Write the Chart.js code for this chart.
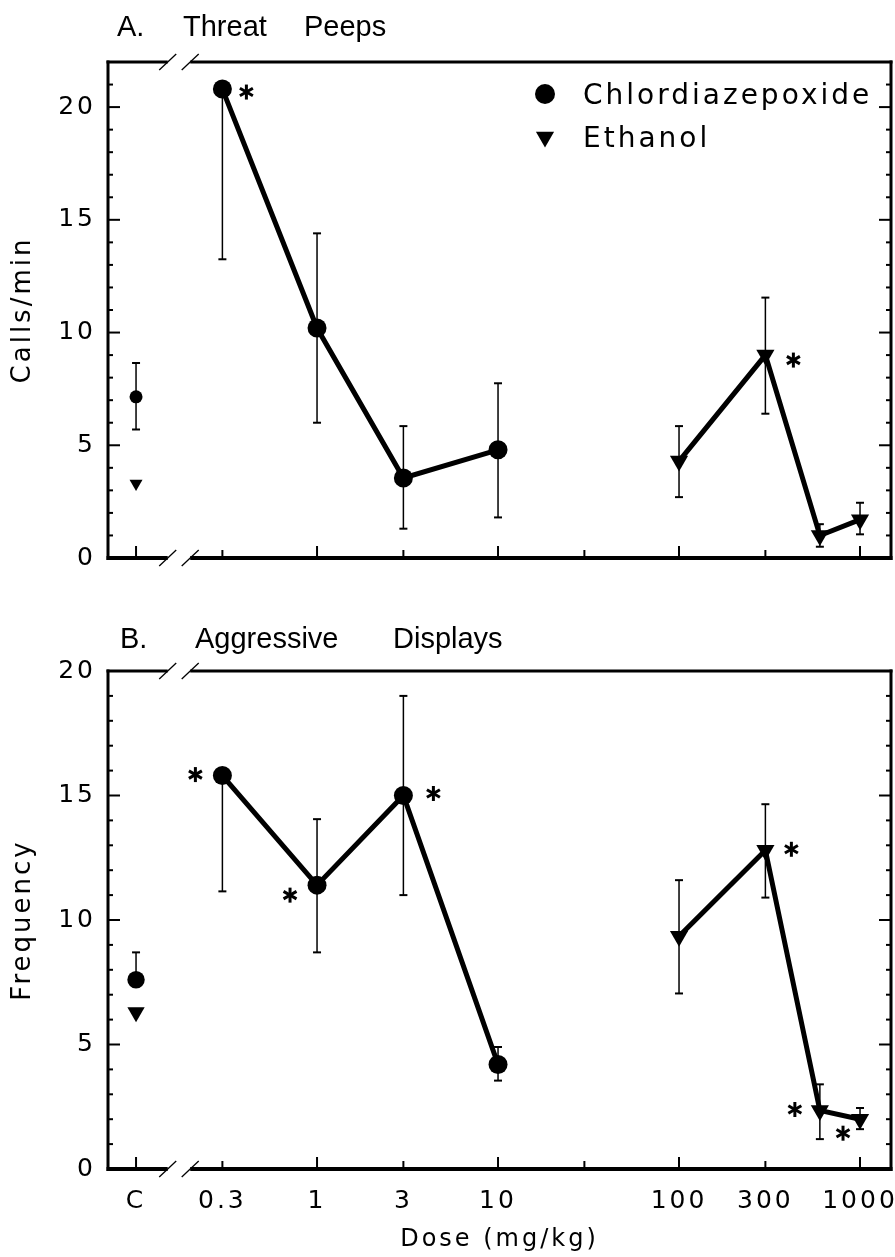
<!DOCTYPE html>
<html>
<head>
<meta charset="utf-8">
<script src="https://cdn.jsdelivr.net/npm/chart.js@4.4.1/dist/chart.umd.min.js"></script>
<style>
  html, body { margin: 0; padding: 0; background: #fff; }
  canvas { display: block; }
</style>
</head>
<body>
<canvas id="chartA" width="895" height="600"></canvas>
<canvas id="chartB" width="895" height="657"></canvas>
<script>
// Doses in mg/kg. The control group "C" is placed one decade below 1 on the log axis
const controlDose = 0.1;
const chlDoses = [0.3, 1, 3, 10];
const ethDoses = [100, 300, 600, 1000];

const xTickValues = [0.1, 0.3, 1, 3, 10, 30, 100, 300, 1000];
const xTickLabels = ['C', '0.3', '1', '3', '10', '', '100', '300', '1000'];
const xMajorTicks = [0.1, 1, 10, 100, 1000];

// A. Threat peeps (calls/min): means and error bar ends (null = not drawn)
const peepsChl   = [20.8, 10.2, 3.55, 4.8];
const peepsChlHi = [null, 14.4, 5.85, 7.75];
const peepsChlLo = [13.25, 6.0, 1.3, 1.8];
const peepsEth   = [4.3, 9.0, 1.0, 1.7];
const peepsEthHi = [5.85, 11.55, 1.5, 2.45];
const peepsEthLo = [2.7, 6.4, 0.5, 1.05];
const peepsCtrl   = [7.15, 3.3];   // chlordiazepoxide, ethanol
const peepsCtrlHi = [8.65, null];
const peepsCtrlLo = [5.7, null];
const peepsYLabels = [0, 5, 10, 15, 20];

// B. Aggressive displays (frequency)
const dispChl   = [15.8, 11.4, 15.0, 4.2];
const dispChlHi = [null, 14.05, 19.0, 4.9];
const dispChlLo = [11.15, 8.7, 11.0, 3.55];
const dispEth   = [9.35, 12.8, 2.35, 2.0];
const dispEthHi = [11.6, 14.65, 3.4, 2.45];
const dispEthLo = [7.05, 10.9, 1.2, 1.6];
const dispCtrl   = [7.6, 6.3];
const dispCtrlHi = [8.7, null];
const dispCtrlLo = [null, null];
const dispYLabels = [0, 5, 10, 15, 20];

const seriesNames = ['Chlordiazepoxide', 'Ethanol'];
const peepsTitle = ['A.', 'Threat', 'Peeps'];
const dispTitle = ['B.', 'Aggressive', 'Displays'];

Chart.defaults.color = '#000';
Chart.defaults.font.family = 'DejaVu Sans';

function seg(ctx, x1, y1, x2, y2) {
    ctx.beginPath();
    ctx.moveTo(x1, y1);
    ctx.lineTo(x2, y2);
    ctx.stroke();
}

function drawStar(ctx, cx, cy) {
    const s = 7.5;
    ctx.lineWidth = 3;
    [90, 30, 150].forEach(a => {
        const r = a * Math.PI / 180;
        seg(ctx, cx - Math.cos(r) * s, cy - Math.sin(r) * s, cx + Math.cos(r) * s, cy + Math.sin(r) * s);
    });
}

// error bars, drawn under the markers
const errorBarPlugin = {
    id: 'errorBars',
    beforeDatasetsDraw(chart, args, opts) {
        const ctx = chart.ctx;
        const ys = chart.scales.y;
        ctx.save();
        ctx.strokeStyle = '#000';
        opts.sets.forEach(set => {
            const meta = chart.getDatasetMeta(set.ds);
            meta.data.forEach((pt, i) => {
                const hi = set.hi[i], lo = set.lo[i];
                const top = hi == null ? pt.y : ys.getPixelForValue(hi);
                const bot = lo == null ? pt.y : ys.getPixelForValue(lo);
                ctx.lineWidth = 1.5;
                seg(ctx, pt.x, top, pt.x, bot);
                ctx.lineWidth = 2;
                if (hi != null) seg(ctx, pt.x - 4, top, pt.x + 4, top);
                if (lo != null) seg(ctx, pt.x - 4, bot, pt.x + 4, bot);
            });
        });
        ctx.restore();
    }
};

// frame with axis breaks, inward ticks, titles, stars, legend
const framePlugin = {
    id: 'frame',
    beforeDraw(chart) {
        chart.ctx.letterSpacing = '3px';
    },
    afterDraw(chart, args, opts) {
        const ctx = chart.ctx;
        const {left, right, top, bottom} = chart.chartArea;
        const xs = chart.scales.x, ys = chart.scales.y;
        ctx.save();
        ctx.letterSpacing = '0px';
        ctx.strokeStyle = '#000';
        ctx.fillStyle = '#000';

        const brk = (xs.getPixelForValue(0.1) + xs.getPixelForValue(0.3)) / 2;
        const gL = brk - 11.5, gR = brk + 11;
        ctx.lineWidth = 3;
        seg(ctx, left, top - 1.5, left, bottom + 2);
        seg(ctx, right, top - 1.5, right, bottom + 2);
        seg(ctx, left - 1.5, top, gL, top);
        seg(ctx, gR, top, right + 1.5, top);
        ctx.lineWidth = 4;
        seg(ctx, left - 1.5, bottom, gL, bottom);
        seg(ctx, gR, bottom, right + 1.5, bottom);
        ctx.lineWidth = 1.3;
        [top, bottom].forEach(y => {
            seg(ctx, gL - 8.5, y + 8, gL + 8.5, y - 8);
            seg(ctx, gR - 8.5, y + 8, gR + 8.5, y - 8);
        });

        ctx.lineWidth = 2;
        ys.ticks.forEach(t => {
            const py = ys.getPixelForValue(t.value);
            const len = opts.yLabels.includes(t.value) ? 12 : 5;
            seg(ctx, left, py, left + len, py);
            seg(ctx, right, py, right - len, py);
        });
        xTickValues.forEach(v => {
            const px = xs.getPixelForValue(v);
            const len = xMajorTicks.includes(v) ? 12 : 8;
            seg(ctx, px, bottom, px, bottom - len);
        });

        // significance stars
        opts.stars.forEach(s => {
            const pt = chart.getDatasetMeta(s.ds).data[s.i];
            drawStar(ctx, pt.x + s.dx, pt.y + s.dy);
        });

        // panel title
        ctx.font = '29px "Liberation Sans"';
        ctx.textBaseline = 'alphabetic';
        opts.title.forEach((w, i) => ctx.fillText(w, opts.titleX[i], opts.titleY));

        // legend
        if (opts.legend) {
            const lg = opts.legend;
            ctx.font = '28px "DejaVu Sans"';
            ctx.letterSpacing = '3px';
            lg.rows.forEach((row, i) => {
                const ds = chart.data.datasets[row.ds];
                Chart.helpers.drawPoint(ctx, {
                    pointStyle: ds.pointStyle, rotation: ds.pointRotation || 0,
                    radius: row.r, borderWidth: 0
                }, lg.markerX, row.y);
                ctx.fillText(seriesNames[i], lg.textX, row.y + 10);
            });
        }
        ctx.restore();
    }
};

function makeDatasets(chl, eth, ctrl, ctrlSizes) {
    const common = {
        borderColor: '#000', backgroundColor: '#000',
        pointBackgroundColor: '#000', pointBorderWidth: 0,
        tension: 0, clip: false
    };
    return [
        Object.assign({}, common, {
            label: seriesNames[0],
            data: chlDoses.map((d, i) => ({x: d, y: chl[i]})),
            borderWidth: 5, pointStyle: 'circle', pointRadius: 9.5
        }),
        Object.assign({}, common, {
            label: seriesNames[1],
            data: ethDoses.map((d, i) => ({x: d, y: eth[i]})),
            borderWidth: 5, pointStyle: 'triangle', pointRotation: 180, pointRadius: 10.5
        }),
        Object.assign({}, common, {
            label: seriesNames[0] + ' control',
            data: [{x: controlDose, y: ctrl[0]}],
            showLine: false, pointStyle: 'circle', pointRadius: ctrlSizes[0]
        }),
        Object.assign({}, common, {
            label: seriesNames[1] + ' control',
            data: [{x: controlDose, y: ctrl[1]}],
            showLine: false, pointStyle: 'triangle', pointRotation: 180, pointRadius: ctrlSizes[1]
        })
    ];
}

function makeChart(canvasId, cfg) {
    return new Chart(document.getElementById(canvasId).getContext('2d'), {
        type: 'line',
        data: { datasets: makeDatasets(cfg.chl, cfg.eth, cfg.ctrl, cfg.ctrlSizes) },
        options: {
            responsive: false,
            animation: false,
            events: [],
            layout: { autoPadding: false, padding: { left: 0, top: cfg.padTop, right: 4, bottom: 0 } },
            scales: {
                x: {
                    type: 'logarithmic', min: 0.07, max: 1483,
                    afterFit: s => { s.height = cfg.xHeight; s.paddingLeft = 0; s.paddingRight = 0; },
                    afterBuildTicks: s => { s.ticks = xTickValues.map(v => ({value: v})); },
                    grid: { display: false, drawTicks: false },
                    border: { display: false },
                    ticks: {
                        display: cfg.showX, autoSkip: false, maxRotation: 0, padding: 17,
                        font: { size: 25 }, callback: (v, i) => xTickLabels[i]
                    },
                    title: {
                        display: cfg.showX, text: 'Dose (mg/kg)',
                        font: { size: 24 }, padding: { top: 0, bottom: 3 }
                    }
                },
                y: {
                    type: 'linear', min: 0, max: cfg.yMax,
                    afterFit: s => { s.width = 108; s.paddingTop = 0; s.paddingBottom = 0; },
                    grid: { display: false, drawTicks: false },
                    border: { display: false },
                    ticks: {
                        stepSize: 1, autoSkip: false, padding: 12, font: { size: 25 },
                        callback: v => cfg.yLabels.includes(v) ? v : ''
                    },
                    title: {
                        display: true, text: cfg.yTitle,
                        font: { size: 26 }, padding: { top: 8, bottom: 0 }
                    }
                }
            },
            plugins: {
                legend: { display: false },
                tooltip: { enabled: false },
                errorBars: {
                    sets: [
                        { ds: 0, hi: cfg.chlHi, lo: cfg.chlLo },
                        { ds: 1, hi: cfg.ethHi, lo: cfg.ethLo },
                        { ds: 2, hi: [cfg.ctrlHi[0]], lo: [cfg.ctrlLo[0]] },
                        { ds: 3, hi: [cfg.ctrlHi[1]], lo: [cfg.ctrlLo[1]] }
                    ]
                },
                frame: {
                    yLabels: cfg.yLabels,
                    stars: cfg.stars,
                    title: cfg.title, titleX: cfg.titleX, titleY: cfg.titleY,
                    legend: cfg.legend
                }
            }
        },
        plugins: [errorBarPlugin, framePlugin]
    });
}

makeChart('chartA', {
    chl: peepsChl, chlHi: peepsChlHi, chlLo: peepsChlLo,
    eth: peepsEth, ethHi: peepsEthHi, ethLo: peepsEthLo,
    ctrl: peepsCtrl, ctrlHi: peepsCtrlHi, ctrlLo: peepsCtrlLo,
    ctrlSizes: [6.5, 7.5],
    yMax: 22, yLabels: peepsYLabels, yTitle: 'Calls/min',
    padTop: 62, xHeight: 42, showX: false,
    stars: [ {ds: 0, i: 0, dx: 24, dy: 3}, {ds: 1, i: 1, dx: 28, dy: 5} ],
    title: peepsTitle, titleX: [117, 183, 304], titleY: 36,
    legend: { markerX: 545, textX: 583, rows: [ {ds: 0, y: 94, r: 10}, {ds: 1, y: 137, r: 10.5} ] }
});

makeChart('chartB', {
    chl: dispChl, chlHi: dispChlHi, chlLo: dispChlLo,
    eth: dispEth, ethHi: dispEthHi, ethLo: dispEthLo,
    ctrl: dispCtrl, ctrlHi: dispCtrlHi, ctrlLo: dispCtrlLo,
    ctrlSizes: [8.7, 10],
    yMax: 20, yLabels: dispYLabels, yTitle: 'Frequency',
    padTop: 71, xHeight: 88, showX: true,
    stars: [
        {ds: 0, i: 0, dx: -27, dy: -1}, {ds: 0, i: 1, dx: -27, dy: 10},
        {ds: 0, i: 2, dx: 30, dy: -2}, {ds: 1, i: 1, dx: 26, dy: -1},
        {ds: 1, i: 2, dx: -25, dy: -1}, {ds: 1, i: 3, dx: -17, dy: 14}
    ],
    title: dispTitle, titleX: [120, 195, 393], titleY: 48,
    legend: null
});
</script>
</body>
</html>
